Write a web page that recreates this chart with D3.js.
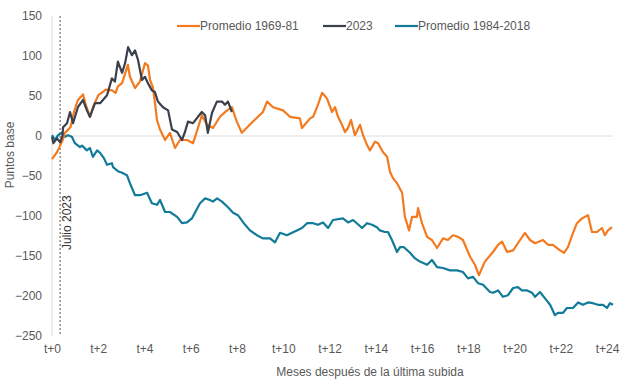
<!DOCTYPE html>
<html><head><meta charset="utf-8">
<script src="https://cdn.jsdelivr.net/npm/d3@7"></script>
<style>
body{margin:0;background:#fff;}
svg{display:block;font-family:"Liberation Sans",Arial,sans-serif;}
</style></head>
<body><svg id="c" width="640" height="383"></svg>
<script>
const xTicks = [0,2,4,6,8,10,12,14,16,18,20,22,24];
const xTickLabels = ["t+0","t+2","t+4","t+6","t+8","t+10","t+12","t+14","t+16","t+18","t+20","t+22","t+24"];
const yTicks = [150,100,50,0,-50,-100,-150,-200,-250];
const seriesNames = ["Promedio 1969-81","2023","Promedio 1984-2018"];
const markerMonth = 0.35;
const markerLabel = "Julio 2023";

const m6981 = [0,0.22,0.35,0.45,0.56,0.70,0.80,0.95,1.12,1.34,1.45,1.64,1.80,2.00,2.20,2.32,2.60,2.75,2.85,3.03,3.28,3.37,3.59,3.80,4.02,4.15,4.24,4.36,4.46,4.54,4.67,4.89,5.10,5.32,5.53,5.84,6.10,6.31,6.48,6.70,6.96,7.26,7.57,7.78,7.99,8.21,8.69,9.12,9.30,9.56,9.99,10.29,10.72,10.81,11.16,11.29,11.50,11.68,11.89,12.11,12.24,12.37,12.54,12.67,12.80,12.93,13.10,13.32,13.45,13.62,13.75,13.97,14.10,14.31,14.49,14.62,14.75,14.92,15.14,15.26,15.44,15.57,15.78,15.83,16.00,16.22,16.43,16.65,16.91,17.12,17.34,17.56,17.77,18.08,18.29,18.46,18.72,19.07,19.29,19.46,19.68,19.94,20.24,20.45,20.67,20.89,21.23,21.45,21.66,21.97,22.14,22.31,22.53,22.70,22.92,23.18,23.35,23.57,23.78,23.91,24.04,24.22];
const v6981 = [-29,-20,-12,-6,4,8,11,30,45,52,40,24,38,51,55,58,57,54,62,66,89,74,60,68,91,88,70,61,40,20,8,-5,4,-15,-5,-5,-9,10,26,14,10,24,32,36,18,4,18,30,43,36,32,24,22,10,22,24,39,54,47,30,36,24,14,5,10,20,1,14,1,-11,-18,-7,-9,-20,-26,-45,-53,-59,-71,-101,-118,-101,-101,-90,-109,-126,-130,-140,-128,-130,-124,-126,-130,-151,-161,-174,-157,-145,-136,-132,-145,-143,-130,-121,-130,-134,-130,-136,-136,-143,-146,-139,-121,-109,-103,-99,-120,-120,-115,-124,-118,-114];

const m2023 = [0,0.06,0.22,0.35,0.45,0.48,0.65,0.78,0.91,1.12,1.34,1.51,1.64,1.86,2.08,2.38,2.59,2.72,2.85,3.03,3.16,3.29,3.46,3.59,3.72,3.89,4.02,4.15,4.32,4.45,4.58,4.80,5.02,5.19,5.41,5.62,5.75,5.88,6.10,6.31,6.48,6.62,6.74,6.92,7.13,7.35,7.48,7.61,7.78];
const v2023 = [-1,-9,-3,-8,0,11,16,30,16,36,45,32,24,41,41,51,72,68,93,79,91,111,101,107,95,70,74,66,57,55,43,36,32,8,5,-5,5,18,16,24,30,26,4,29,43,43,39,43,30];

const m8418 = [0,0.13,0.26,0.43,0.56,0.69,0.86,0.99,1.21,1.30,1.51,1.64,1.77,1.95,2.08,2.25,2.38,2.59,2.64,2.85,3.03,3.24,3.37,3.59,3.81,4.11,4.32,4.54,4.67,4.89,5.10,5.41,5.62,5.84,6.05,6.18,6.40,6.62,6.83,6.96,7.14,7.35,7.61,7.83,8.04,8.35,8.56,8.86,9.12,9.43,9.64,9.86,10.16,10.38,10.59,10.81,11.03,11.29,11.50,11.72,11.94,12.15,12.58,12.80,13.02,13.41,13.62,13.84,14.05,14.18,14.40,14.53,14.70,14.92,15.05,15.22,15.48,15.70,15.91,16.22,16.43,16.65,16.91,17.21,17.51,17.77,17.99,18.21,18.42,18.64,18.94,19.07,19.29,19.50,19.72,19.94,20.15,20.32,20.54,20.76,20.89,21.10,21.32,21.54,21.75,21.88,22.10,22.27,22.53,22.75,22.96,23.18,23.39,23.61,23.83,24.00,24.13,24.26];
const v8418 = [1,-5,1,4,-1,1,-1,-9,-14,-12,-18,-15,-26,-18,-21,-28,-36,-34,-39,-44,-46,-49,-59,-74,-74,-71,-84,-86,-80,-95,-95,-101,-109,-108,-103,-96,-84,-78,-80,-82,-78,-82,-89,-96,-99,-111,-118,-124,-128,-128,-133,-121,-124,-121,-118,-115,-109,-109,-111,-108,-115,-105,-103,-108,-105,-115,-109,-111,-114,-118,-120,-120,-130,-145,-139,-139,-146,-153,-157,-161,-155,-164,-165,-168,-168,-170,-178,-176,-184,-186,-195,-196,-193,-201,-199,-190,-189,-193,-193,-196,-201,-195,-203,-211,-224,-221,-221,-215,-215,-208,-211,-208,-209,-211,-211,-215,-209,-211];

const colors = ["#F47A1F","#3A404C","#127B9A"];
const svg = d3.select("#c");
const x = d3.scaleLinear().domain([0,24]).range([52,607]);
const y = d3.scaleLinear().domain([-250,150]).range([336,16]);
const txt = "#595959";

// y axis line
svg.append("line").attr("x1",52).attr("x2",52).attr("y1",y(150)).attr("y2",y(-250)).attr("stroke","#d9d9d9").attr("stroke-width",1);
// zero line
svg.append("line").attr("x1",52).attr("x2",613).attr("y1",y(0)).attr("y2",y(0)).attr("stroke","#dcdcdc").attr("stroke-width",1);

const yAxis = d3.axisLeft(y).tickValues(yTicks).tickSize(0).tickPadding(10);
const ya = svg.append("g").attr("transform","translate(52,0)").call(yAxis);
ya.select(".domain").remove();
ya.selectAll("text").attr("fill",txt).style("font-size","12px").style("font-family","Liberation Sans, Arial, sans-serif");

const xAxis = d3.axisBottom(x).tickValues(xTicks).tickFormat((d,i)=>xTickLabels[i]).tickSize(0).tickPadding(8);
const xa = svg.append("g").attr("transform","translate(0,336)").call(xAxis);
xa.select(".domain").remove();
xa.selectAll("text").attr("fill",txt).style("font-size","12px").style("font-family","Liberation Sans, Arial, sans-serif");

// marker dashed line
svg.append("line").attr("x1",x(markerMonth)).attr("x2",x(markerMonth)).attr("y1",y(150)).attr("y2",y(-250))
  .attr("stroke","#555").attr("stroke-width",1).attr("stroke-dasharray","2,2");
svg.append("text").attr("transform",`translate(${x(markerMonth)+11},250) rotate(-90)`)
  .attr("fill","#333").style("font-size","12px").text(markerLabel);

const line = d3.line().x(d=>x(d[0])).y(d=>y(d[1]));
const data = [
  d3.zip(m6981,v6981),
  d3.zip(m2023,v2023),
  d3.zip(m8418,v8418)
];
[2,0,1].forEach(i=>{
  svg.append("path").datum(data[i]).attr("d",line).attr("fill","none")
    .attr("stroke",colors[i]).attr("stroke-width",2.2).attr("stroke-linejoin","round");
});

// axis titles
svg.append("text").attr("transform","translate(14,155) rotate(-90)").attr("text-anchor","middle")
  .attr("fill",txt).style("font-size","12px").text("Puntos base");
svg.append("text").attr("x",370).attr("y",376).attr("text-anchor","middle")
  .attr("fill",txt).style("font-size","12px").text("Meses después de la última subida");

// legend
const legX = [177,323,395];
seriesNames.forEach((n,i)=>{
  svg.append("line").attr("x1",legX[i]).attr("x2",legX[i]+23).attr("y1",26).attr("y2",26)
    .attr("stroke",colors[i]).attr("stroke-width",2.2);
  svg.append("text").attr("x",legX[i]+23).attr("y",30).attr("fill",txt).style("font-size","12px").text(n);
});
</script></body></html>
